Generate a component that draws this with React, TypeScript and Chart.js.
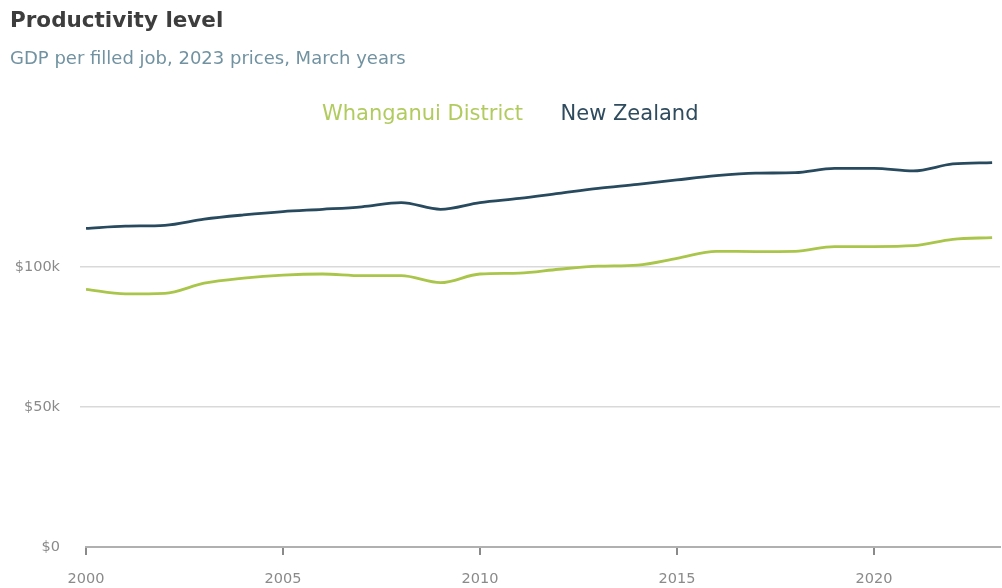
import React, { useEffect, useRef } from "react";
import { Chart, registerables } from "chart.js";

Chart.register(...registerables);

const years = [2000, 2001, 2002, 2003, 2004, 2005, 2006, 2007, 2008, 2009, 2010, 2011, 2012, 2013, 2014, 2015, 2016, 2017, 2018, 2019, 2020, 2021, 2022, 2023];
const whanganui = [92.0, 90.4, 90.6, 94.2, 96.0, 97.1, 97.5, 96.9, 96.9, 94.4, 97.5, 97.8, 99.2, 100.3, 100.7, 103.1, 105.6, 105.5, 105.6, 107.3, 107.3, 107.6, 109.9, 110.5];
const newZealand = [113.8, 114.6, 114.9, 117.1, 118.6, 119.8, 120.6, 121.5, 123.0, 120.6, 123.0, 124.5, 126.3, 128.1, 129.5, 131.1, 132.6, 133.5, 133.7, 135.2, 135.2, 134.3, 136.8, 137.3];
const xTicks = [2000, 2005, 2010, 2015, 2020];
const yTicks = [0, 50000, 100000];
const seriesNames = ["Whanganui District", "New Zealand"];

const GREEN = "#a9c64a";
const NAVY = "#284a5f";
const LEGEND_COLORS = ["#b1cb5e", "#2f4b5e"];
const FONT = "'DejaVu Sans', sans-serif";

export default function App() {
  const ref = useRef<HTMLCanvasElement>(null);
  useEffect(() => {
    document.body.style.margin = "0";
    const ctx = ref.current!;
    const chart = new Chart(ctx, {
      type: "line",
      data: {
        datasets: [
          {
            label: seriesNames[0],
            data: years.map((y, i) => ({ x: y, y: whanganui[i] * 1000 })),
            borderColor: GREEN,
            backgroundColor: GREEN,
            borderWidth: 2.8,
            pointRadius: 0,
            cubicInterpolationMode: "monotone",
          },
          {
            label: seriesNames[1],
            data: years.map((y, i) => ({ x: y, y: newZealand[i] * 1000 })),
            borderColor: NAVY,
            backgroundColor: NAVY,
            borderWidth: 2.8,
            pointRadius: 0,
            cubicInterpolationMode: "monotone",
          },
        ],
      },
      options: {
        responsive: false,
        animation: false,
        layout: { padding: { left: 10, right: 2, top: 0, bottom: 0 } },
        plugins: {
          tooltip: { enabled: false },
          title: {
            display: true,
            text: "Productivity level",
            align: "start",
            color: "#3d3d3d",
            font: { family: FONT, size: 21.5, weight: "bold" },
            padding: { top: 9, bottom: 14 },
          },
          subtitle: {
            display: true,
            text: "GDP per filled job, 2023 prices, March years",
            align: "start",
            color: "#7192a1",
            font: { family: FONT, size: 18 },
            padding: { top: 0, bottom: 7 },
          },
          legend: {
            display: true,
            position: "top",
            labels: {
              boxWidth: 0,
              boxHeight: 0,
              padding: 27,
              font: { family: FONT, size: 21 },
              generateLabels: (c: any) =>
                c.data.datasets.map((ds: any, i: number) => ({
                  text: ds.label,
                  fillStyle: "transparent",
                  strokeStyle: "transparent",
                  lineWidth: 0,
                  fontColor: LEGEND_COLORS[i],
                  hidden: false,
                  datasetIndex: i,
                })),
            },
          },
        },
        scales: {
          x: {
            type: "linear",
            min: 2000,
            max: 2023.2,
            afterBuildTicks: (s: any) => {
              s.ticks = xTicks.map((v) => ({ value: v }));
            },
            afterFit: (s: any) => {
              s.height = 41;
            },
            grid: { drawOnChartArea: false, drawTicks: true, tickLength: 8, color: "#8a8a8a", lineWidth: 2 },
            border: { display: true, color: "#b0b0b0", width: 2 },
            ticks: {
              color: "#8a8a8a",
              font: { family: FONT, size: 14.5 },
              padding: 16,
              maxRotation: 0,
              callback: (v: any) => String(v),
            },
          },
          y: {
            type: "linear",
            min: 0,
            max: 147000,
            afterBuildTicks: (s: any) => {
              s.ticks = yTicks.map((v) => ({ value: v }));
            },
            afterFit: (s: any) => {
              s.width = 76;
            },
            grid: {
              color: (c: any) => (c.tick && c.tick.value === 0 ? "rgba(0,0,0,0)" : "#d9d9d9"),
              lineWidth: 1.5,
              drawTicks: true,
              tickLength: 6,
            },
            border: { display: false },
            ticks: {
              color: "#8a8a8a",
              font: { family: FONT, size: 14.5 },
              padding: 20,
              callback: (v: any) => (v === 0 ? "$0" : "$" + v / 1000 + "k"),
            },
          },
        },
      },
    });
    return () => chart.destroy();
  }, []);
  return <canvas ref={ref} width={1002} height={588} style={{ display: "block" }} />;
}
